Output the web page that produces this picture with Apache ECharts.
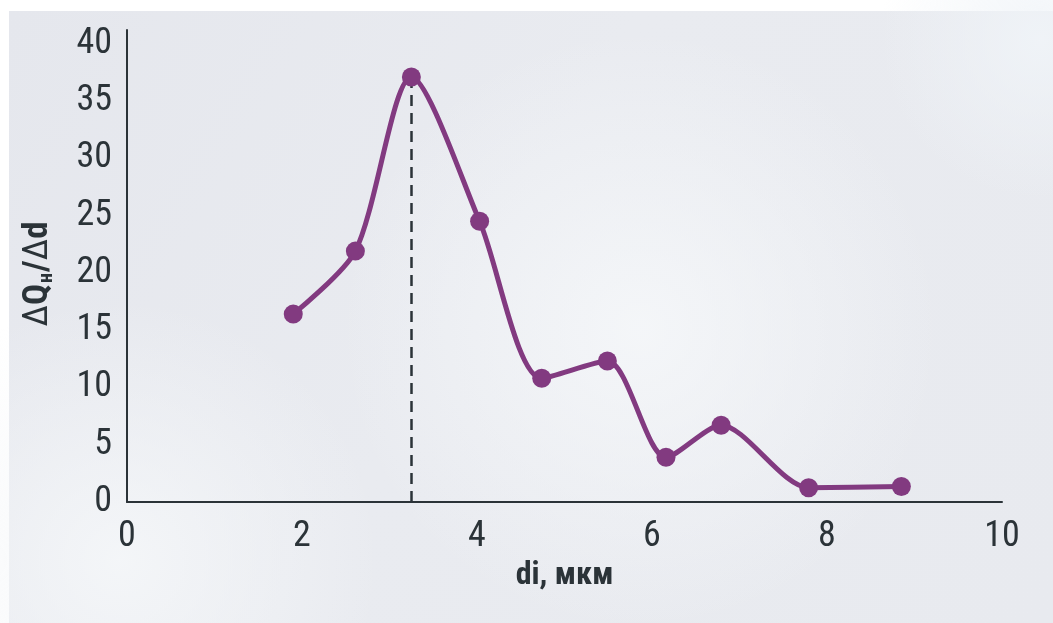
<!DOCTYPE html>
<html>
<head>
<meta charset="utf-8">
<script src="https://cdn.jsdelivr.net/npm/echarts@6/dist/echarts.min.js"></script>
<style>
  html, body { margin: 0; padding: 0; background: #ffffff; }
  #chart { width: 1053px; height: 623px; }
</style>
</head>
<body>
<div id="chart"></div>
<script>
// Particle size distribution: diameter di (µm) vs ΔQн/Δd
const diameters = [1.90, 2.61, 3.25, 4.03, 4.74, 5.49, 6.16, 6.79, 7.79, 8.85];
const density   = [16.4, 21.9, 37.1, 24.5, 10.8, 12.3, 3.9, 6.7, 1.25, 1.35];
const xTicks = [0, 2, 4, 6, 8, 10];
const yTicks = [0, 5, 10, 15, 20, 25, 30, 35, 40];

const FONT = "'Liberation Sans Narrow', 'Roboto Condensed', 'Liberation Sans', Roboto, sans-serif";
const INK = '#2b3338';
const PURPLE = '#823a80';

const points = diameters.map((d, i) => [d, density[i]]);
let peak = 0;
density.forEach((v, i) => { if (v > density[peak]) peak = i; });

const chart = echarts.init(document.getElementById('chart'), null, { renderer: 'canvas' });

chart.setOption({
  backgroundColor: 'transparent',
  animation: false,
  graphic: [
    {
      type: 'rect', z: -10, silent: true,
      shape: { x: 9, y: 11, width: 1044, height: 612 },
      style: {
        fill: new echarts.graphic.LinearGradient(0, 0, 1, 1, [
          { offset: 0, color: '#e5e7ed' },
          { offset: 0.45, color: '#e9ebf0' },
          { offset: 1, color: '#e8eaef' }
        ])
      }
    },
    {
      type: 'circle', z: -9, silent: true,
      shape: { cx: 640, cy: 330, r: 300 },
      style: {
        fill: new echarts.graphic.RadialGradient(0.5, 0.5, 0.5, [
          { offset: 0, color: 'rgba(246,248,250,0.85)' },
          { offset: 1, color: 'rgba(246,248,250,0)' }
        ])
      }
    },
    {
      type: 'circle', z: -9, silent: true,
      shape: { cx: 120, cy: 560, r: 260 },
      style: {
        fill: new echarts.graphic.RadialGradient(0.5, 0.5, 0.5, [
          { offset: 0, color: 'rgba(245,247,249,0.9)' },
          { offset: 1, color: 'rgba(245,247,249,0)' }
        ])
      }
    },
    {
      type: 'circle', z: -9, silent: true,
      shape: { cx: 1040, cy: 40, r: 160 },
      style: {
        fill: new echarts.graphic.RadialGradient(0.5, 0.5, 0.5, [
          { offset: 0, color: 'rgba(240,244,248,0.9)' },
          { offset: 1, color: 'rgba(240,244,248,0)' }
        ])
      }
    }
  ],
  grid: { left: 127, right: 51, top: 30, bottom: 121, containLabel: false },
  xAxis: {
    type: 'value',
    min: xTicks[0], max: xTicks[xTicks.length - 1], interval: 2,
    name: 'di, мкм',
    nameLocation: 'middle',
    nameGap: 40,
    nameTextStyle: { fontFamily: FONT, fontWeight: 'bold', fontSize: 32, color: INK },
    axisLine: { show: true, onZero: false, lineStyle: { color: INK, width: 2 } },
    axisTick: { show: false },
    splitLine: { show: false },
    axisLabel: { fontFamily: FONT, fontSize: 36, color: INK, margin: 17 }
  },
  yAxis: {
    type: 'value',
    min: yTicks[0], max: 41.2, interval: 5,
    name: '{d|Δ}{b|Q}{s|н}{b|/}{d|Δ}{b|d}',
    nameLocation: 'middle',
    nameGap: 70,
    nameRotate: 90,
    nameTextStyle: {
      padding: [0, 16, 0, 0],
      rich: {
        b: { fontFamily: FONT, fontWeight: 'bold', fontSize: 35, color: INK, lineHeight: 38 },
        d: { fontFamily: FONT, fontWeight: 'normal', fontSize: 35, color: INK, lineHeight: 38 },
        s: { fontFamily: FONT, fontWeight: 'bold', fontSize: 20, color: INK, lineHeight: 18, verticalAlign: 'bottom', padding: [0, 1, 0, 1] }
      }
    },
    axisLine: { show: true, lineStyle: { color: INK, width: 2 } },
    axisTick: { show: false },
    splitLine: { show: false },
    axisLabel: {
      fontFamily: FONT, fontSize: 36, color: INK, margin: 15,
      showMaxLabel: false,
      formatter: v => (yTicks.indexOf(v) >= 0 ? String(v) : '')
    }
  },
  series: [
    {
      type: 'line',
      data: points,
      smooth: 0.27,
      symbol: 'circle',
      symbolSize: 19,
      z: 3,
      lineStyle: { color: PURPLE, width: 5 },
      itemStyle: { color: PURPLE },
      markLine: {
        silent: true,
        symbol: 'none',
        z: 2,
        label: { show: false },
        lineStyle: { color: INK, type: [11, 7], width: 2.5 },
        data: [[
          { coord: [diameters[peak], 0] },
          { coord: [diameters[peak], density[peak]] }
        ]]
      }
    }
  ]
});
</script>
</body>
</html>
